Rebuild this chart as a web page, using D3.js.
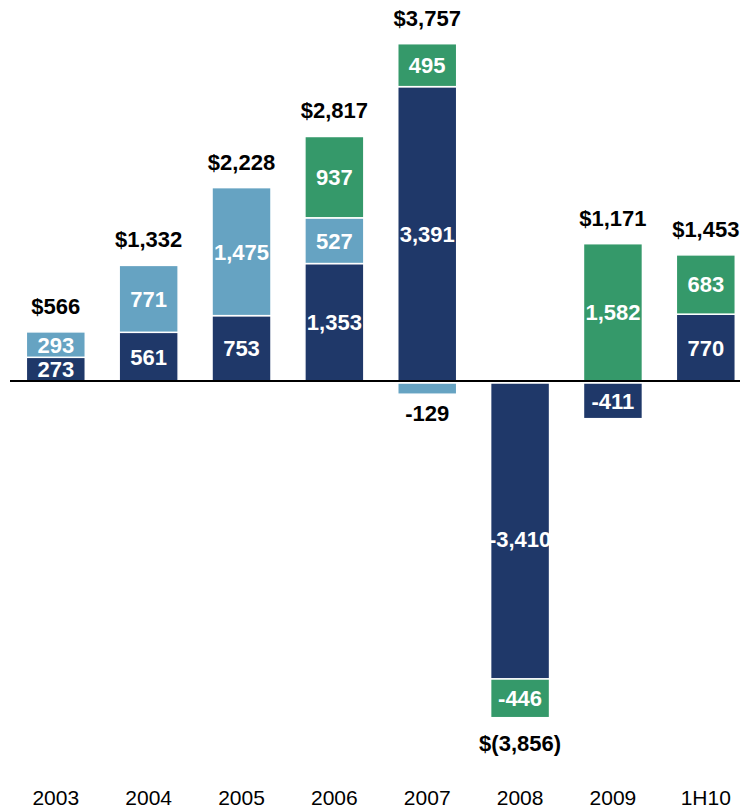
<!DOCTYPE html>
<html>
<head>
<meta charset="utf-8">
<script src="https://cdn.jsdelivr.net/npm/d3@7"></script>
<style>
  body { margin: 0; background: #fff; }
  text { font-family: "Liberation Sans", Arial, sans-serif; }
</style>
</head>
<body>
<div id="chart"></div>
<script>
const years = ["2003", "2004", "2005", "2006", "2007", "2008", "2009", "1H10"];
const navyVals  = [273, 561, 753, 1353, 3391, -3410, -411, 770];
const lightVals = [293, 771, 1475, 527, -129, 0, 0, 0];
const greenVals = [0, 0, 0, 937, 495, -446, 1582, 683];
const totalLabels = ["$566", "$1,332", "$2,228", "$2,817", "$3,757", "$(3,856)", "$1,171", "$1,453"];

const series = [
  { key: "navy",  vals: navyVals,  color: "#1f3869" },
  { key: "light", vals: lightVals, color: "#66a3c2" },
  { key: "green", vals: greenVals, color: "#35996a" }
];

const width = 740, height = 810;
const fmt = v => d3.format(",")(v).replace("\u2212", "-");

const svg = d3.select("#chart").append("svg")
  .attr("width", width)
  .attr("height", height);

const x = d3.scaleBand()
  .domain(years)
  .range([9.6, 752])
  .paddingInner(0.365)
  .paddingOuter(0.18);

const y = d3.scaleLinear()
  .domain([-4000, 4000])
  .range([728.2, 33.8]);

// stack positives up, negatives down
const segs = [];
years.forEach((yr, i) => {
  let pos = 0, neg = 0;
  series.forEach(s => {
    const v = s.vals[i];
    if (!v) return;
    if (v > 0) { segs.push({ yr, i, v, y0: pos, y1: pos + v, s }); pos += v; }
    else { segs.push({ yr, i, v, y0: neg, y1: neg + v, s }); neg += v; }
  });
});

svg.append("g").selectAll("rect")
  .data(segs)
  .enter()
  .append("rect")
  .attr("x", d => x(d.yr))
  .attr("width", x.bandwidth())
  .attr("y", d => d.v > 0 ? y(d.y1) : y(d.y0) + 2)
  .attr("height", d => Math.abs(y(d.y1) - y(d.y0)))
  .attr("fill", d => d.s.color)
  .attr("stroke", "#fff")
  .attr("stroke-width", 1.5);

// segment labels
svg.append("g").selectAll("text")
  .data(segs)
  .enter()
  .append("text")
  .attr("x", d => x(d.yr) + x.bandwidth() / 2)
  .attr("y", d => {
    if (Math.abs(d.v) < 200) return y(d.y1) + 21;
    const mid = (y(d.y0) + y(d.y1)) / 2;
    if (d.v < -3000) return mid + 10;
    return mid + (d.v > 0 ? 0 : 2);
  })
  .attr("dy", "0.36em")
  .attr("text-anchor", "middle")
  .attr("font-size", "22px")
  .attr("font-weight", "bold")
  .attr("fill", d => Math.abs(d.v) < 200 ? "#000" : "#fff")
  .text(d => fmt(d.v));

// totals
const tops = years.map((yr, i) => {
  let pos = 0, neg = 0;
  series.forEach(s => { const v = s.vals[i]; if (v > 0) pos += v; else neg += v; });
  return { yr, i, pos, neg };
});

svg.append("g").selectAll("text")
  .data(tops)
  .enter()
  .append("text")
  .attr("x", d => x(d.yr) + x.bandwidth() / 2)
  .attr("y", d => d.pos > 0 ? y(d.pos) - 18 : y(d.neg) + 35)
  .attr("text-anchor", "middle")
  .attr("font-size", "22px")
  .attr("font-weight", "bold")
  .attr("fill", "#000")
  .text((d, i) => totalLabels[i]);

// zero line
svg.append("line")
  .attr("x1", 10)
  .attr("x2", 740)
  .attr("y1", y(0))
  .attr("y2", y(0))
  .attr("stroke", "#000")
  .attr("stroke-width", 2);

// year labels
svg.append("g").selectAll("text")
  .data(years)
  .enter()
  .append("text")
  .attr("x", d => x(d) + x.bandwidth() / 2)
  .attr("y", 805)
  .attr("text-anchor", "middle")
  .attr("font-size", "21px")
  .attr("fill", "#000")
  .text(d => d);
</script>
</body>
</html>
